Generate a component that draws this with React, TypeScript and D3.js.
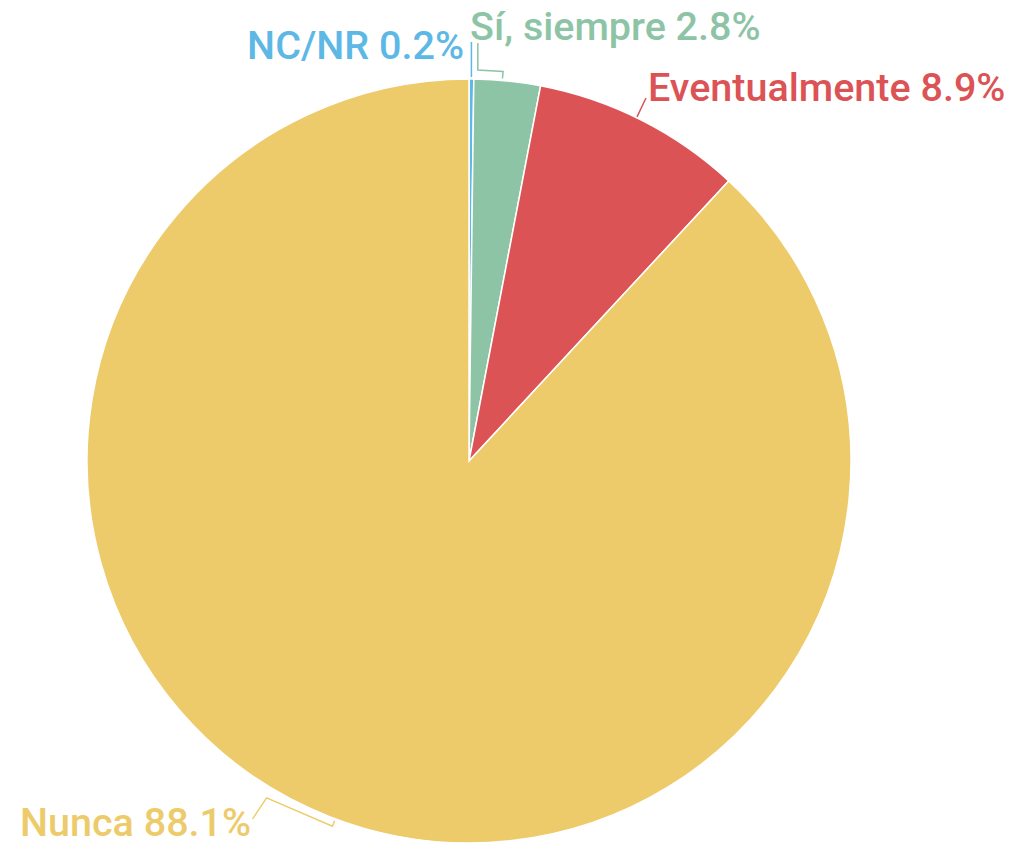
import React from 'react';
import * as d3 from 'd3';

const categories = ['NC/NR', 'Sí, siempre', 'Eventualmente', 'Nunca'];
const values = [0.2, 2.8, 8.9, 88.1];
const colors = ['#5db8e6', '#8ec4a6', '#dc5356', '#eecb6a'];

const W = 1016;
const H = 845;
const cx = 469;
const cy = 461;
const R = 382;

// where each label text sits
const labelPos = [
  { x: 464, y: 59, anchor: 'end' },
  { x: 470, y: 40, anchor: 'start' },
  { x: 648, y: 101, anchor: 'start' },
  { x: 20, y: 836, anchor: 'start' },
];

const toRad = (deg: number) => (deg * Math.PI) / 180;
const polar = (a: number, r: number): [number, number] => [cx + r * Math.sin(a), cy - r * Math.cos(a)];

const App: React.FC = () => {
  const pie = d3.pie<number>().sort(null).value(d => d);
  const arcs = pie(values);
  const arc = d3.arc<d3.PieArcDatum<number>>().innerRadius(0).outerRadius(R);

  const leaders: { d: string; color: string }[] = [];
  // NC/NR: straight line up from the slice
  {
    const a = (arcs[0].startAngle + arcs[0].endAngle) / 2;
    const [x0, y0] = polar(a, R + 2);
    leaders.push({ d: `M${x0},${y0}V${labelPos[0].y - 17}`, color: colors[0] });
  }
  // Sí, siempre: bracket along the slice then up to the label
  {
    const a0 = arcs[1].startAngle + 0.01;
    const a1 = toRad(5);
    const [x0, y0] = polar(a0, R + 9);
    const [x1, y1] = polar(a1, R + 9);
    const [x2, y2] = polar(a1, R + 2);
    leaders.push({ d: `M${x0},${labelPos[1].y + 3}L${x0},${y0}L${x1},${y1}L${x2},${y2}`, color: colors[1] });
  }
  // Eventualmente: short line from middle of the arc
  {
    const a = (arcs[2].startAngle + arcs[2].endAngle) / 2 - toRad(0.8);
    const [x0, y0] = polar(a, R + 1);
    leaders.push({ d: `M${x0},${y0}L${labelPos[2].x - 2},${labelPos[2].y - 3}`, color: colors[2] });
  }
  // Nunca: bracket on the lower-left edge, then to the label
  {
    const a0 = toRad(200.5);
    const a1 = toRad(211);
    const [x0, y0] = polar(a0, R + 2);
    const [x1, y1] = polar(a0, R + 8);
    const [x2, y2] = polar(a1, R + 11);
    leaders.push({ d: `M${x0},${y0}L${x1},${y1}L${x2},${y2}L${x2 - 14},${y2 + 21}`, color: colors[3] });
  }

  return (
    <svg width={W} height={H} style={{ position: 'absolute', left: 0, top: 0 }}>
      <g transform={`translate(${cx},${cy})`}>
        {arcs.map((a, i) => (
          <path key={categories[i]} d={arc(a) || ''} fill={colors[i]} stroke="#fff" strokeWidth={1.5} />
        ))}
      </g>
      {leaders.map((l, i) => (
        <path key={i} d={l.d} fill="none" stroke={l.color} strokeWidth={1.5} />
      ))}
      {categories.map((c, i) => (
        <text
          key={c}
          x={labelPos[i].x}
          y={labelPos[i].y}
          textAnchor={labelPos[i].anchor}
          fill={colors[i]}
          fontFamily="Roboto"
          fontWeight={500}
          fontSize={39.5}
        >
          {`${c} ${values[i].toFixed(1)}%`}
        </text>
      ))}
    </svg>
  );
};

export default App;
